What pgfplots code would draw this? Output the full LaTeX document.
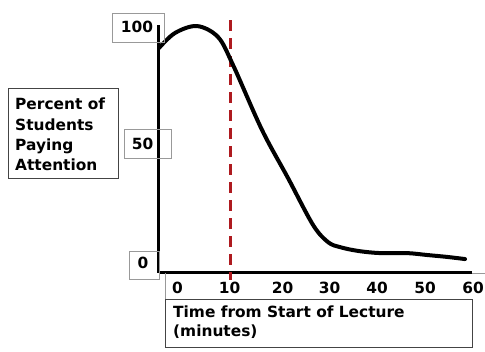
\documentclass[border=0pt]{standalone}
\usepackage{pgfplots}
\pgfplotsset{compat=1.18}
\usepackage{fontspec}
\setmainfont{DejaVu Sans}
\definecolor{dashred}{HTML}{AE1A1F}
\definecolor{boxgray}{HTML}{999999}
\definecolor{boxdark}{HTML}{444444}
\begin{document}
\begin{tikzpicture}
\begin{axis}[
  scale only axis, width=313pt, height=248pt,
  xmin=-3.69, xmax=60.41, ymin=-2.93, ymax=100.84,
  axis lines=left,
  axis line style={-, line width=3pt, black},
  xtick=\empty, ytick=\empty,
  clip=false,
]
\coordinate (O) at (rel axis cs:0,0);
\addplot[dashred, line width=3pt, dash pattern=on 11pt off 7pt] coordinates {(10.95,102.9) (10.95,-5.9)};
\addplot[black, line width=4pt, smooth, tension=0.55, line cap=round, line join=round] coordinates {
(-3.69,91.2) (-0.41,97.5) (4.10,100.4)
(8.40,95.8) (11.47,84.1) (17.41,56.9)
(22.73,36.8) (27.85,17.2) (30.92,10.0) (33.38,7.9) (37.07,6.3)
(41.57,5.4) (47.10,5.4) (51.20,4.6) (55.29,3.8) (58.98,2.9)};
\end{axis}
\pgfresetboundingbox
\begin{scope}[shift={(O)}, xshift=-159pt, yshift=273pt, x=1pt, y=-1pt,
  every node/.style={font=\fontsize{15.4}{18}\selectfont\bfseries, inner sep=0pt}]
\path[use as bounding box] (0,0) rectangle (485,352);
% y labels
\draw[boxgray, line width=0.8pt] (112.5,13) rectangle (164,42);
\node[anchor=base] at (137,33) {100};
\draw[boxgray, line width=0.8pt] (124,129) rectangle (171,158);
\node[anchor=base] at (142.5,150) {50};
\draw[boxgray, line width=0.8pt] (129,251) rectangle (159,279);
\node[anchor=base] at (143,269) {0};
% y title
\draw[boxdark, line width=0.8pt] (8,88) rectangle (118,178);
\node[anchor=base west] at (15,110) {Percent of};
\node[anchor=base west] at (15,130.2) {Students};
\node[anchor=base west] at (15,150.5) {Paying};
\node[anchor=base west] at (15,170.7) {Attention};
% x tick labels
\draw[boxgray, line width=0.8pt] (165,273) -- (165,299);
\draw[boxgray, line width=0.8pt] (472,273) -- (485,273);
\node[anchor=base] at (177.5,294) {0};
\node[anchor=base] at (229.5,294) {10};
\node[anchor=base] at (282.5,294) {20};
\node[anchor=base] at (329.5,294) {30};
\node[anchor=base] at (377,294) {40};
\node[anchor=base] at (425,294) {50};
\node[anchor=base] at (473,294) {60};
% x title
\draw[boxdark, line width=0.8pt] (165,299) rectangle (472,347);
\node[anchor=base west] at (173,318) {Time from Start of Lecture};
\node[anchor=base west] at (173,337) {(minutes)};
\end{scope}
\end{tikzpicture}
\end{document}
